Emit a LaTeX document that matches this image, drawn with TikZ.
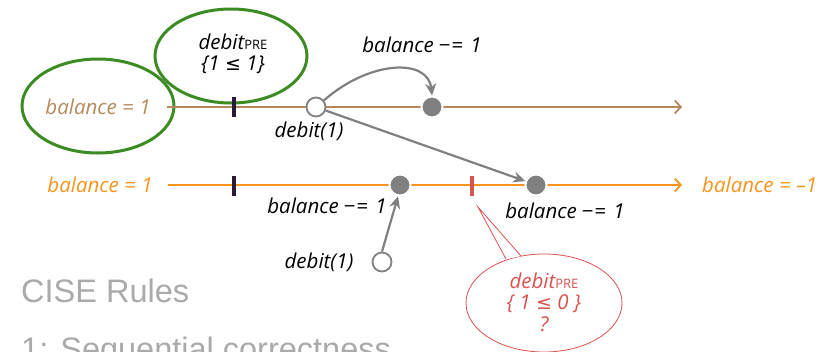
\documentclass[tikz,border=0pt]{standalone}
\usepackage{fontspec}
\setmainfont{Open Sans}
\newfontfamily\slidefont{Liberation Sans}
\newfontfamily\symfont{DejaVu Sans}
\usetikzlibrary{arrows.meta,shapes.geometric}
\definecolor{brownl}{HTML}{B58A5A}
\definecolor{orangel}{HTML}{F7941D}
\definecolor{greenl}{HTML}{3C8C23}
\definecolor{redl}{HTML}{D9534F}
\definecolor{grayl}{HTML}{808080}
\definecolor{tickc}{HTML}{2A1A3A}
\definecolor{slidegray}{HTML}{AAAAAA}
\newcommand{\mineq}{\hspace{5pt}{\upshape −\hspace{1pt}=}\hspace{7pt}}
\newcommand{\presub}{{\fontsize{13}{15}\selectfont\upshape PRE}}
\newcommand{\leqs}{{\symfont\fontsize{19}{20}\selectfont ≤}}
\tikzset{
  lbl/.style={font=\fontsize{20.5}{22}\selectfont\itshape, inner sep=0pt},
  biglbl/.style={font=\fontsize{20.5}{21.5}\selectfont\itshape, inner sep=0pt, align=center},
  opencirc/.style={circle, draw=grayl, fill=white, line width=1.8pt, minimum size=19pt, inner sep=0pt},
  fullcirc/.style={circle, fill=grayl, draw=white, line width=2pt, minimum size=21pt, inner sep=0pt},
  tickm/.style={draw=none, fill=tickc, minimum width=4pt, minimum height=20pt, inner sep=0pt},
  redtick/.style={draw=none, fill=redl, minimum width=4.5pt, minimum height=20pt, inner sep=0pt},
  gray arrow/.style={draw=grayl, line width=2.2pt, -{Stealth[length=12pt,width=11pt]}},
  timeline/.style={line width=1.6pt, -{Straight Barb[length=6pt,width=13pt,line width=1.8pt]}},
}
\begin{document}
\begin{tikzpicture}[x=1pt,y=-1pt]
\useasboundingbox (0,0) rectangle (834,351);
\clip (0,0) rectangle (834,351);
% green ellipses
\draw[greenl, line width=3pt] (98,106) ellipse [x radius=76, y radius=47];
\draw[greenl, line width=3pt] (231,56) ellipse [x radius=76, y radius=47];
\node[lbl, text=brownl] (bal1) at (98,107) {balance = 1};
\node[biglbl] (pre1) at (233,54) {debit\presub\\\{1 \leqs\ 1\}};
% top timeline
\coordinate (t1s) at (167,107);
\coordinate (t1e) at (682,107);
\draw[timeline, brownl] (t1s) -- (t1e);
\node[tickm] (tk1) at (234,107) {};
\node[opencirc] (o1) at (316,107) {};
\node[fullcirc] (f1) at (432,107) {};
\node[lbl] (deb1) at (309,131) {debit(1)};
\node[lbl] (bm1) at (422,45) {balance\mineq1};
% bottom timeline
\coordinate (t2s) at (168,185);
\coordinate (t2e) at (682,185);
\draw[timeline, orangel] (t2s) -- (t2e);
\node[lbl, text=orangel] (bal2) at (100,185) {balance = 1};
\node[lbl, text=orangel, anchor=west] (bal3) at (702,185) {balance = –1};
\node[tickm] (tk2) at (234,186) {};
\node[fullcirc] (f2) at (400,185) {};
\node[redtick] (rt) at (472,186) {};
\node[fullcirc] (f3) at (536,185) {};
\node[lbl] (bm2) at (327,206) {balance\mineq1};
\node[lbl] (bm3) at (565,211) {balance\mineq1};
\node[opencirc] (o2) at (382,262) {};
\node[lbl] (deb2) at (319,262) {debit(1)};
% gray arrows
\draw[gray arrow] (o1.40) .. controls (370,60) and (428,58) .. (f1.north);
\draw[gray arrow] (o1.-20) -- (f3.160);
\draw[gray arrow] (o2.north) -- (f2.-100);
% red callout
\coordinate (cp) at (478,207);
\draw[redl, line width=0.8pt, fill=white] (544,303) ellipse [x radius=78, y radius=49];
\draw[redl, line width=0.8pt, fill=white] (506,259) -- (cp) -- (521,256);
\node[biglbl, text=redl] (pre2) at (544,302) {debit\presub\\\{ 1 \leqs\ 0 \}\\?};
% slide text
\node[anchor=base west, inner sep=0pt, text=slidegray, font=\slidefont\fontsize{32.5}{36}\selectfont] (cise) at (21,302) {CISE Rules};
\node[anchor=base west, inner sep=0pt, text=slidegray, font=\slidefont\fontsize{32.5}{36}\selectfont] (seq) at (21,360) {1: Sequential correctness};
\end{tikzpicture}
\end{document}
